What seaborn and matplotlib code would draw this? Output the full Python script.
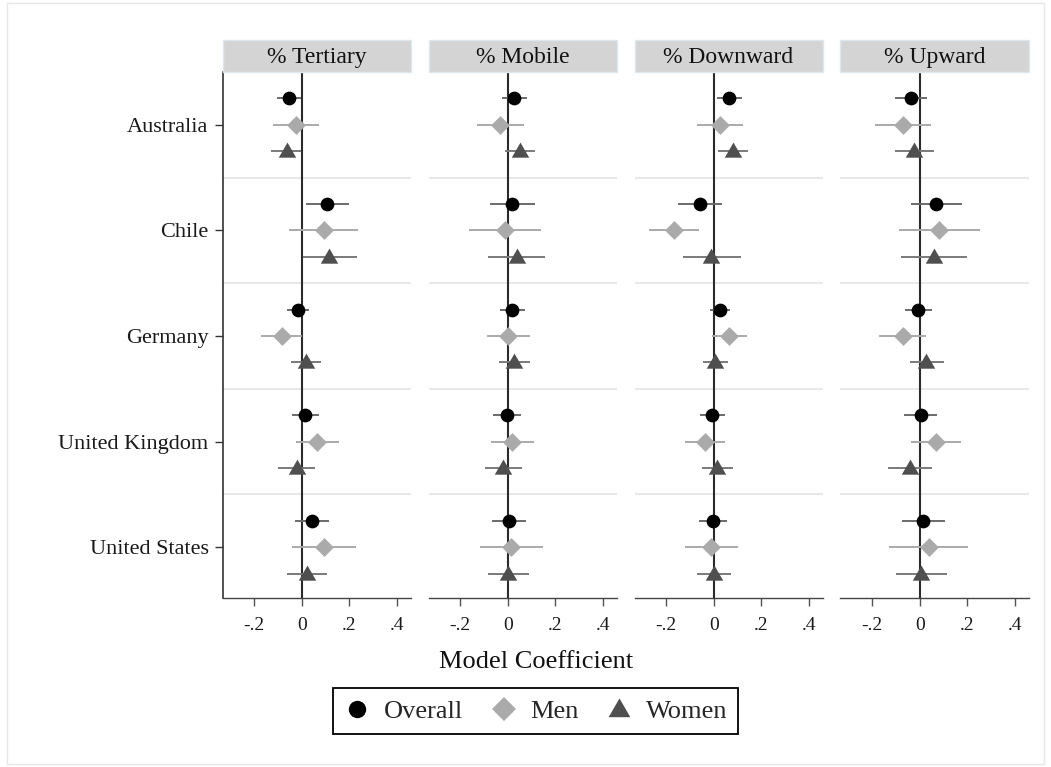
import numpy as np
import pandas as pd
import matplotlib
matplotlib.use("Agg")
import matplotlib.pyplot as plt
from matplotlib.lines import Line2D
from matplotlib.patches import Rectangle
from matplotlib.markers import MarkerStyle
import seaborn as sns

# ---- data -------------------------------------------------------------
countries = ["Australia", "Chile", "Germany", "United Kingdom", "United States"]
outcomes = ["% Tertiary", "% Mobile", "% Downward", "% Upward"]
groups = ["Overall", "Men", "Women"]

overall_coef = {
    "% Tertiary": [-0.053, 0.107, -0.017, 0.015, 0.044],
    "% Mobile":   [0.028, 0.020, 0.020, -0.001, 0.006],
    "% Downward": [0.066, -0.059, 0.028, -0.006, -0.003],
    "% Upward":   [-0.037, 0.069, -0.006, 0.004, 0.015],
}
overall_lo = {
    "% Tertiary": [-0.103, 0.017, -0.063, -0.042, -0.027],
    "% Mobile":   [-0.024, -0.073, -0.031, -0.060, -0.066],
    "% Downward": [0.013, -0.150, -0.014, -0.056, -0.062],
    "% Upward":   [-0.104, -0.038, -0.063, -0.065, -0.075],
}
overall_hi = {
    "% Tertiary": [-0.003, 0.198, 0.032, 0.075, 0.115],
    "% Mobile":   [0.082, 0.113, 0.072, 0.056, 0.079],
    "% Downward": [0.120, 0.034, 0.070, 0.048, 0.056],
    "% Upward":   [0.031, 0.177, 0.053, 0.073, 0.105],
}

men_coef = {
    "% Tertiary": [-0.023, 0.093, -0.084, 0.065, 0.093],
    "% Mobile":   [-0.031, -0.010, 0.003, 0.020, 0.014],
    "% Downward": [0.025, -0.167, 0.065, -0.037, -0.011],
    "% Upward":   [-0.072, 0.082, -0.072, 0.068, 0.038],
}
men_lo = {
    "% Tertiary": [-0.120, -0.052, -0.172, -0.024, -0.041],
    "% Mobile":   [-0.129, -0.162, -0.087, -0.069, -0.118],
    "% Downward": [-0.072, -0.270, -0.007, -0.120, -0.122],
    "% Upward":   [-0.188, -0.087, -0.173, -0.037, -0.129],
}
men_hi = {
    "% Tertiary": [0.075, 0.239, 0.000, 0.156, 0.228],
    "% Mobile":   [0.070, 0.141, 0.093, 0.111, 0.148],
    "% Downward": [0.125, -0.062, 0.139, 0.048, 0.101],
    "% Upward":   [0.046, 0.252, 0.025, 0.173, 0.205],
}

women_coef = {
    "% Tertiary": [-0.063, 0.117, 0.018, -0.020, 0.022],
    "% Mobile":   [0.052, 0.038, 0.027, -0.020, 0.003],
    "% Downward": [0.083, -0.010, 0.007, 0.013, 0.003],
    "% Upward":   [-0.023, 0.059, 0.028, -0.042, 0.004],
}
women_lo = {
    "% Tertiary": [-0.127, 0.004, -0.044, -0.098, -0.060],
    "% Mobile":   [-0.011, -0.082, -0.037, -0.097, -0.082],
    "% Downward": [0.020, -0.131, -0.044, -0.051, -0.069],
    "% Upward":   [-0.103, -0.077, -0.042, -0.132, -0.101],
}
women_hi = {
    "% Tertiary": [-0.003, 0.233, 0.080, 0.058, 0.107],
    "% Mobile":   [0.115, 0.156, 0.093, 0.059, 0.089],
    "% Downward": [0.146, 0.113, 0.060, 0.082, 0.073],
    "% Upward":   [0.059, 0.200, 0.101, 0.051, 0.113],
}

xticks = [-0.2, 0.0, 0.2, 0.4]
xtick_labels = ["-.2", "0", ".2", ".4"]

# ---- styling ----------------------------------------------------------
sns.set_theme(style="white")
plt.rcParams["font.family"] = ["Liberation Serif", "DejaVu Serif"]

# triangle with the CI line passing a little below its middle
tri = MarkerStyle([(-1, -0.71), (1, -0.71), (0, 1.022), (-1, -0.71)])

series = {
    "Overall": dict(coef=overall_coef, lo=overall_lo, hi=overall_hi, offset=-0.25,
                    marker="o", s=98, color="#000000", ci="#6a6a6a"),
    "Men": dict(coef=men_coef, lo=men_lo, hi=men_hi, offset=0.0,
                marker="D", s=92, color="#aaaaaa", ci="#aaaaaa"),
    "Women": dict(coef=women_coef, lo=women_lo, hi=women_hi, offset=0.25,
                  marker=tri, s=165, color="#4f4f4f", ci="#7a7a7a"),
}

W, H = 1051, 767
fig = plt.figure(figsize=(W / 100, H / 100), dpi=100)

ax_lefts = [222.5, 428.5, 634.5, 840.5]
ax_top, ax_w, ax_h = 72, 188, 526
strip_h = 32

ypos = np.arange(len(countries))

for i, outcome in enumerate(outcomes):
    ax = fig.add_axes([ax_lefts[i] / W, 1 - (ax_top + ax_h) / H, ax_w / W, ax_h / H])

    # light separators between countries and the zero reference line
    for k in range(len(countries) - 1):
        ax.axhline(k + 0.5, color="#e8e8e8", lw=1.5, zorder=0)
    ax.axvline(0, color="#2b2b2b", lw=1.5, zorder=1)

    for g in groups:
        spec = series[g]
        df = pd.DataFrame({
            "country": countries,
            "coef": spec["coef"][outcome],
            "lo": spec["lo"][outcome],
            "hi": spec["hi"][outcome],
        })
        df["y"] = ypos + spec["offset"]
        ax.hlines(df["y"], df["lo"], df["hi"], color=spec["ci"], lw=1.4, zorder=2)
        sns.scatterplot(data=df, x="coef", y="y", marker=spec["marker"], s=spec["s"],
                        color=spec["color"], linewidth=0, ax=ax, zorder=3, legend=False)

    ax.set_xlim(-0.333, 0.458)
    ax.set_ylim(len(countries) - 0.52, -0.5)
    ax.set_xticks(xticks)
    ax.set_xticklabels(xtick_labels)
    ax.set_xlabel("")
    ax.set_ylabel("")
    ax.tick_params(axis="x", bottom=True, length=6, width=1, color="#555555",
                   labelsize=14, pad=8, labelcolor="#1a1a1a")
    for side in ["top", "right"]:
        ax.spines[side].set_visible(False)
    ax.spines["bottom"].set_color("#444444")
    ax.spines["bottom"].set_linewidth(1.0)

    if i == 0:
        ax.set_yticks(ypos)
        ax.set_yticklabels(countries)
        ax.tick_params(axis="y", left=True, length=6, width=1, color="#333333",
                       labelsize=16, pad=4, labelcolor="#1a1a1a")
        ax.spines["left"].set_color("#333333")
        ax.spines["left"].set_linewidth(1.2)
    else:
        ax.set_yticks([])
        ax.spines["left"].set_visible(False)

    # facet header
    ax.add_patch(Rectangle((0, 1), 1, strip_h / ax_h, transform=ax.transAxes,
                           facecolor="#d4d4d4", edgecolor="#dde8ee", lw=1,
                           clip_on=False, zorder=5))
    ax.text(0.5, 1 + (strip_h / 2 - 1.5) / ax_h, outcome, transform=ax.transAxes,
            ha="center", va="center", fontsize=17, color="#111111", zorder=6)

fig.text(536 / W, 1 - 662 / H, "Model Coefficient", ha="center", va="center",
         fontsize=19, color="#111111")

handles = [
    Line2D([], [], linestyle="none", marker="o", markersize=12.5,
           markerfacecolor="#000000", markeredgewidth=0),
    Line2D([], [], linestyle="none", marker="D", markersize=12,
           markerfacecolor="#aaaaaa", markeredgewidth=0),
    Line2D([], [], linestyle="none", marker=tri, markersize=16,
           markerfacecolor="#4f4f4f", markeredgewidth=0),
]
leg = fig.legend(handles, groups, loc="center", bbox_to_anchor=(535.5 / W, 1 - 711 / H),
                 ncol=3, frameon=True, fancybox=False, fontsize=19,
                 handlelength=1.0, handletextpad=0.5, columnspacing=1.05,
                 borderpad=0.42, borderaxespad=0)
leg.get_frame().set_edgecolor("#000000")
leg.get_frame().set_linewidth(1.3)
leg.get_frame().set_alpha(1)

# thin outer frame around the graph region
fig.patches.append(Rectangle((7 / W, 3 / H), (1044 - 7) / W, (764 - 3) / H,
                             transform=fig.transFigure, fill=False,
                             edgecolor="#e6e6e6", lw=1))

fig.savefig("out.png", dpi=100)
